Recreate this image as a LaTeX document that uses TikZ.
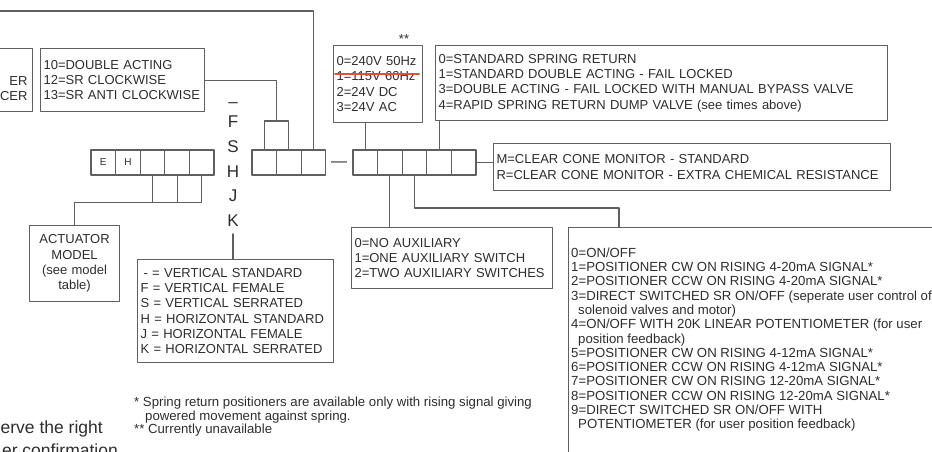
\documentclass[tikz,border=0pt]{standalone}
\usepackage{fontspec}
\setmainfont{Liberation Sans}
\usetikzlibrary{positioning,calc}
\definecolor{codegray}{RGB}{95,95,95}
\definecolor{codetext}{RGB}{45,45,45}
\definecolor{codered}{RGB}{225,80,50}

\begin{document}
\begin{tikzpicture}[x=1pt,y=-1pt,line cap=round,line join=round,
  optbox/.style={draw=codegray,line width=1.1pt,text=codetext,font=\fontsize{13}{15.3}\selectfont,
    inner xsep=3pt,inner ysep=0pt,align=left,anchor=north west},
  cell/.style={draw=codegray,line width=1.1pt,minimum width=24.6pt,minimum height=25pt,
    inner sep=0pt,outer sep=0pt,font=\fontsize{10}{12}\selectfont,text=codetext},
  link/.style={draw=codegray,line width=1.1pt}]
 \useasboundingbox (0,0) rectangle (932,451);
 \clip (0,0) rectangle (932,451);
 % code cells
 \node[cell] (l1) at (103.3,162.5) {E};
 \node[cell,right=0pt of l1] (l2) {H};
 \node[cell,right=0pt of l2] (l3) {};
 \node[cell,right=0pt of l3] (l4) {};
 \node[cell,right=0pt of l4] (l5) {};
 \node[cell,minimum height=27.5pt,below right=0pt of l3.south] (lb1) {};
 \node[cell,minimum height=27.5pt,right=0pt of lb1] (lb2) {};
 \node[cell] (m1) at (264.3,162.5) {};
 \node[cell,right=0pt of m1] (m2) {};
 \node[cell,right=0pt of m2] (m3) {};
 \node[cell,minimum height=29pt,above right=0pt of m1.north] (mt) {};
 \node[cell] (r1) at (365.3,162.5) {};
 \node[cell,right=0pt of r1] (r2) {};
 \node[cell,right=0pt of r2] (r3) {};
 \node[cell,right=0pt of r3] (r4) {};
 \node[cell,right=0pt of r4] (r5) {};
 \node[text=codetext,font=\fontsize{16}{16}\selectfont] (gap) at (339,164) {—};
 \node[text=codetext,font=\fontsize{17}{24.7}\selectfont,align=center,inner sep=0pt,anchor=north]
  (shapes) at (233,91.2) {\vphantom{F}\raisebox{-4pt}{–}\\F\\S\\H\\J\\K};
 % option boxes
 \node[optbox,anchor=north east,align=right,inner xsep=5pt,text width=60pt,minimum height=63pt]
  (side) at (33,48) {\strut\\ER\\CER};
 \node[optbox,text width=158pt,minimum height=63pt] (dbl) at (40,48)
  {10=DOUBLE ACTING\\12=SR CLOCKWISE\\13=SR ANTI CLOCKWISE};
 \node[optbox,text width=83pt,minimum height=77pt] (volt) at (333,45)
  {0=240V 50Hz\\1=115V 60Hz\\2=24V DC\\3=24V AC};
 \draw[codered,line width=2pt] (335,74) -- (419,74);
 \node[text=codetext,font=\fontsize{13}{15}\selectfont] (star) at (404,39) {**};
 \node[optbox,text width=446pt,minimum height=75pt] (spr) at (435,45)
  {0=STANDARD SPRING RETURN\\1=STANDARD DOUBLE ACTING - FAIL LOCKED\\
   3=DOUBLE ACTING - FAIL LOCKED WITH MANUAL BYPASS VALVE\\
   4=RAPID SPRING RETURN DUMP VALVE (see times above)};
 \node[optbox,text width=391pt,minimum height=47pt] (mon) at (493,143)
  {M=CLEAR CONE MONITOR - STANDARD\\R=CLEAR CONE MONITOR - EXTRA CHEMICAL RESISTANCE};
 \node[optbox,align=center,text width=84pt,minimum height=76pt] (act) at (29,225)
  {ACTUATOR\\MODEL\\(see model\\table)};
 \node[optbox,text width=190pt,minimum height=103pt] (mnt) at (137,259)
  {\hspace*{3pt}- = VERTICAL STANDARD\\F = VERTICAL FEMALE\\S = VERTICAL SERRATED\\
   H = HORIZONTAL STANDARD\\J = HORIZONTAL FEMALE\\K = HORIZONTAL SERRATED};
 \node[optbox,text width=195pt,minimum height=61pt] (aux) at (351,227)
  {0=NO AUXILIARY\\1=ONE AUXILIARY SWITCH\\2=TWO AUXILIARY SWITCHES};
 \node[optbox,minimum width=420pt,minimum height=300pt] (big) at (568,227) {};
 \node[text=codetext,font=\fontsize{13.2}{14.3}\selectfont,align=left,inner sep=0pt,anchor=north west]
  (ctrl) at (571,247.5)
  {0=ON/OFF\\1=POSITIONER CW ON RISING 4-20mA SIGNAL*\\2=POSITIONER CCW ON RISING 4-20mA SIGNAL*\\
   3=DIRECT SWITCHED SR ON/OFF (seperate user control of\\\hspace*{7pt}solenoid valves and motor)\\
   4=ON/OFF WITH 20K LINEAR POTENTIOMETER (for user\\\hspace*{7pt}position feedback)\\
   5=POSITIONER CW ON RISING 4-12mA SIGNAL*\\6=POSITIONER CCW ON RISING 4-12mA SIGNAL*\\
   7=POSITIONER CW ON RISING 12-20mA SIGNAL*\\8=POSITIONER CCW ON RISING 12-20mA SIGNAL*\\
   9=DIRECT SWITCHED SR ON/OFF WITH\\\hspace*{7pt}POTENTIOMETER (for user position feedback)};
 % notes
 \node[text=codetext,font=\fontsize{13.2}{12.3}\selectfont,align=left,inner sep=0pt,anchor=north west]
  (notes) at (134,397)
  {* Spring return positioners are available only with rising signal giving\\
   \hspace*{11pt}powered movement against spring.\\** Currently unavailable};
 \node[text=codetext,font=\fontsize{17.5}{21}\selectfont,inner sep=0pt,anchor=east] (tail1) at (103,429)
  {erve the right};
 \node[text=codetext,font=\fontsize{17.5}{21}\selectfont,inner sep=0pt,anchor=east] (tail2) at (118,450)
  {er confirmation};
 % connectors
 \coordinate (topin) at (0,11);
 \coordinate (bend) at (619,208);
 \draw[link] (topin) -| (m3.north);
 \draw[link] (dbl.east) -| (mt.north);
 \draw[link] (lb1.south west) -| (act.north);
 \draw[link] ([yshift=-7pt]shapes.south) -- (shapes.south |- mnt.north);
 \draw[link] (r1.north) -- (r1.north |- volt.south);
 \draw[link] (r4.north) -- (r4.north |- spr.south);
 \draw[link] (r5.east) -- (r5.east -| mon.west);
 \draw[link] (r2.south) -- (r2.south |- aux.north);
 \draw[link] (r3.south) |- (bend) -- (bend |- big.north);
\end{tikzpicture}
\end{document}
